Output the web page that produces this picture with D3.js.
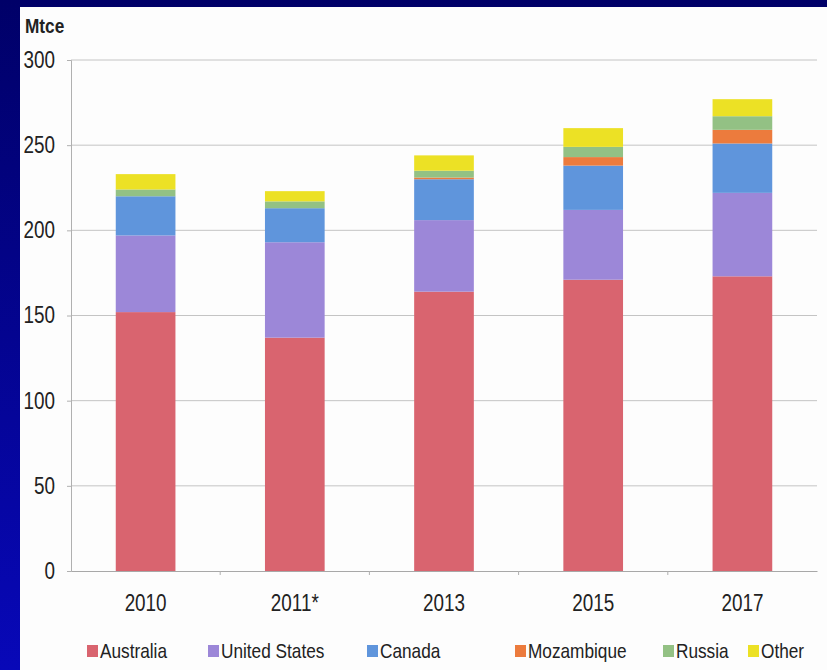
<!DOCTYPE html>
<html>
<head>
<meta charset="utf-8">
<script src="https://cdn.jsdelivr.net/npm/d3@7"></script>
<style>
  body { margin: 0; padding: 0; overflow: hidden; }
  svg text { font-family: "Liberation Sans Narrow", "Arial Narrow", "Liberation Sans", sans-serif; fill: #222; }
</style>
</head>
<body>
<div id="chart-area"></div>
<script>
// values (Mtce)
const years = ['2010', '2011*', '2013', '2015', '2017'];
const countries = ['Australia', 'United States', 'Canada', 'Mozambique', 'Russia', 'Other'];
const australia = [152, 137, 164, 171, 173];
const unitedStates = [45, 56, 42, 41, 49];
const canada = [23, 20, 24, 26, 29];
const mozambique = [0, 0, 1, 5, 8];
const russia = [4, 4, 4, 6, 8];
const other = [9, 6, 9, 11, 10];
const yTicks = [0, 50, 100, 150, 200, 250, 300];

const colors = ['#d9646f', '#9c87d8', '#5f95dc', '#ec7b3d', '#93c184', '#ece125'];

const W = 827, H = 670;
const plot = {left: 71, right: 817, top: 60, bottom: 571};

const svg = d3.select('#chart-area')
    .append('svg')
    .attr('width', W)
    .attr('height', H);

const grad = svg.append('defs').append('linearGradient')
    .attr('id', 'bg')
    .attr('x1', 0).attr('y1', 0).attr('x2', 0).attr('y2', 1);
grad.append('stop').attr('offset', '0%').attr('stop-color', '#000068');
grad.append('stop').attr('offset', '100%').attr('stop-color', '#0808b8');

svg.append('rect').attr('width', W).attr('height', H).attr('fill', 'url(#bg)');
svg.append('rect')
    .attr('x', 20).attr('y', 7)
    .attr('width', W - 20).attr('height', H - 7)
    .attr('fill', '#fdfdfd');

const table = years.map((y, i) => ({
    year: y,
    'Australia': australia[i],
    'United States': unitedStates[i],
    'Canada': canada[i],
    'Mozambique': mozambique[i],
    'Russia': russia[i],
    'Other': other[i]
}));

const xScale = d3.scaleBand()
    .domain(years)
    .range([plot.left, plot.right])
    .paddingInner(0.6)
    .paddingOuter(0.3);

const yScale = d3.scaleLinear()
    .domain([0, 300])
    .range([plot.bottom, plot.top]);

const color = d3.scaleOrdinal().domain(countries).range(colors);

// gridlines
svg.append('g')
    .selectAll('line')
    .data(yTicks.filter(d => d > 0))
    .enter()
    .append('line')
    .attr('x1', plot.left)
    .attr('x2', plot.right)
    .attr('y1', d => yScale(d))
    .attr('y2', d => yScale(d))
    .attr('stroke', '#c4c4c4')
    .attr('stroke-width', 1);

// y axis
const yAxisCall = d3.axisLeft(yScale).tickValues(yTicks).tickSize(4).tickPadding(12);
const yAxis = svg.append('g')
    .attr('transform', 'translate(' + plot.left + ', 0)')
    .call(yAxisCall);
yAxis.select('.domain').attr('stroke', '#b0b0b0');
yAxis.selectAll('.tick line').attr('stroke', '#b0b0b0');
yAxis.selectAll('.tick text')
    .attr('font-size', '23px')
    .attr('fill', '#222');

// bars
const stacked = d3.stack().keys(countries)(table);

svg.append('g')
    .selectAll('g')
    .data(stacked)
    .enter()
    .append('g')
    .attr('fill', d => color(d.key))
    .selectAll('rect')
    .data(d => d)
    .enter()
    .append('rect')
    .attr('x', d => xScale(d.data.year))
    .attr('width', xScale.bandwidth())
    .attr('y', d => yScale(d[1]))
    .attr('height', d => yScale(d[0]) - yScale(d[1]));

// x axis
const xAxisCall = d3.axisBottom(xScale).tickSize(0).tickPadding(24);
const xAxis = svg.append('g')
    .attr('transform', 'translate(0, ' + plot.bottom + ')')
    .call(xAxisCall);
xAxis.select('.domain').attr('stroke', '#a8a8a8');
xAxis.selectAll('.tick text')
    .attr('font-size', '23px')
    .attr('fill', '#222');

// small marks between categories
svg.append('g')
    .selectAll('line')
    .data(years.slice(1))
    .enter()
    .append('line')
    .attr('x1', d => xScale(d) - xScale.step() * xScale.paddingInner() / 2)
    .attr('x2', d => xScale(d) - xScale.step() * xScale.paddingInner() / 2)
    .attr('y1', plot.bottom)
    .attr('y2', plot.bottom + 4)
    .attr('stroke', '#b0b0b0');

// unit label
svg.append('text')
    .text('Mtce')
    .attr('x', 25)
    .attr('y', 33)
    .attr('font-size', '21px')
    .attr('font-weight', 'bold');

// legend
const legendX = [87, 208, 367, 515, 663, 748];
const legend = svg.append('g')
    .selectAll('g')
    .data(countries)
    .enter()
    .append('g')
    .attr('transform', (d, i) => 'translate(' + legendX[i] + ', 645)');

legend.append('rect')
    .attr('width', 11)
    .attr('height', 12)
    .attr('fill', d => color(d));

legend.append('text')
    .text(d => d)
    .attr('x', 13)
    .attr('y', 13)
    .attr('font-size', '21px');

// the source uses a condensed face; squeeze the regular one to match
svg.selectAll('text').each(function() {
    const len = this.getComputedTextLength();
    d3.select(this)
        .attr('textLength', len * 0.82)
        .attr('lengthAdjust', 'spacingAndGlyphs');
});
</script>
</body>
</html>
